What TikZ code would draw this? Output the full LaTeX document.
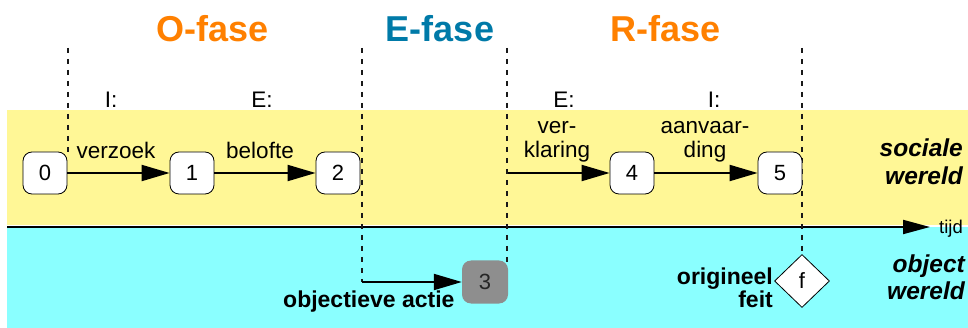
\documentclass[tikz,border=0pt]{standalone}
\usepackage{fontspec}
\setmainfont{Liberation Sans}
\usetikzlibrary{arrows.meta,shapes.geometric}
\definecolor{bandsoc}{RGB}{255,247,150}
\definecolor{bandobj}{RGB}{138,255,255}
\definecolor{ofase}{RGB}{255,128,0}
\definecolor{efase}{RGB}{0,122,168}
\definecolor{grey3}{RGB}{142,142,142}
\begin{document}
\begin{tikzpicture}[x=1pt,y=-1pt,
  state/.style={draw, rounded corners=9pt, fill=white, minimum width=44pt, minimum height=42pt, inner sep=0pt, font=\fontsize{22}{22}\selectfont, line width=0.8pt},
  phaseline/.style={draw=black!90, line width=1.1pt, dash pattern=on 5pt off 6pt},
  act/.style={-{Triangle[length=28pt,width=16pt]}, line width=2pt},
  lbl/.style={font=\fontsize{22.5}{24}\selectfont, inner sep=0pt, anchor=base},
  bold/.style={font=\fontsize{23}{26}\selectfont\bfseries, inner sep=0pt, anchor=base east},
  world/.style={font=\fontsize{24.5}{28}\selectfont\bfseries\itshape, inner sep=0pt, anchor=base east},
  title/.style={font=\fontsize{36}{36}\selectfont\bfseries, inner sep=0pt, anchor=base}]
\useasboundingbox (0,0) rectangle (968,328);
% bands
\fill[bandsoc] (7,110) rectangle (968,225);
\fill[bandobj] (7,227) rectangle (968,328);
% time axis
\coordinate (t0) at (7,227);
\coordinate (t1) at (930,227);
\draw[-{Triangle[length=27pt,width=14pt]}, line width=2pt] (t0) -- (t1);
\node[font=\fontsize{18.5}{19}\selectfont, inner sep=0pt, anchor=base west] (tijd) at (939,234) {tijd};
% titles
\node[title, text=ofase] (tO) at (213,42) {O-fase};
\node[title, text=efase] (tE) at (440,42) {E-fase};
\node[title, text=ofase] (tR) at (666,42) {R-fase};
% phase lines
\coordinate (d1a) at (68,48);  \coordinate (d1b) at (68,153);
\coordinate (d2a) at (362,48); \coordinate (d2b) at (362,282);
\coordinate (d3a) at (507,48); \coordinate (d3b) at (507,273);
\coordinate (d4a) at (802,48); \coordinate (d4b) at (802,255);
\draw[phaseline] (d1a) -- (d1b);
\draw[phaseline] (d2a) -- (d2b);
\draw[phaseline] (d3a) -- (d3b);
\draw[phaseline] (d4a) -- (d4b);
% I/E labels
\node[lbl] (i1) at (111,108) {I:};
\node[lbl] (e1) at (262,108) {E:};
\node[lbl] (e2) at (564,108) {E:};
\node[lbl] (i2) at (714,108) {I:};
% states
\node[state] (n0) at (45,173) {0};
\node[state] (n1) at (192,173) {1};
\node[state] (n2) at (338,173) {2};
\node[state] (n4) at (632,173) {4};
\node[state] (n5) at (780,173) {5};
\coordinate (s4) at (508,173);
\draw[act] (n0) -- (n1);
\draw[act] (n1) -- (n2);
\draw[act] (s4) -- (n4);
\draw[act] (n4) -- (n5);
\node[lbl] (lverz) at (116,159) {verzoek};
\node[lbl] (lbel) at (260,159) {belofte};
\node[lbl] (lver) at (557,134) {ver-};
\node[lbl] (lkla) at (557,158) {klaring};
\node[lbl] (laan) at (705,134) {aanvaar-};
\node[lbl] (ldin) at (705,158) {ding};
% object world
\node[fill=grey3, rounded corners=9pt, minimum width=46pt, minimum height=43pt, inner sep=0pt, font=\fontsize{22}{22}\selectfont, text=black!85] (n3) at (485,282) {3};
\draw[act] (d2b) -- (n3);
\node[bold, anchor=base west] (oa) at (283,308) {objectieve actie};
\node[diamond, draw, fill=white, line width=0.8pt, minimum width=55pt, minimum height=53pt, inner sep=0pt, font=\fontsize{22}{22}\selectfont] (f) at (802,281) {f};
\node[bold] (orig) at (773,285) {origineel};
\node[bold] (feit) at (773,308) {feit};
% world names
\node[world] (soc1) at (963,157) {sociale};
\node[world] (soc2) at (963,185) {wereld};
\node[world] (obj1) at (965,273) {object};
\node[world] (obj2) at (965,300) {wereld};
\end{tikzpicture}
\end{document}
